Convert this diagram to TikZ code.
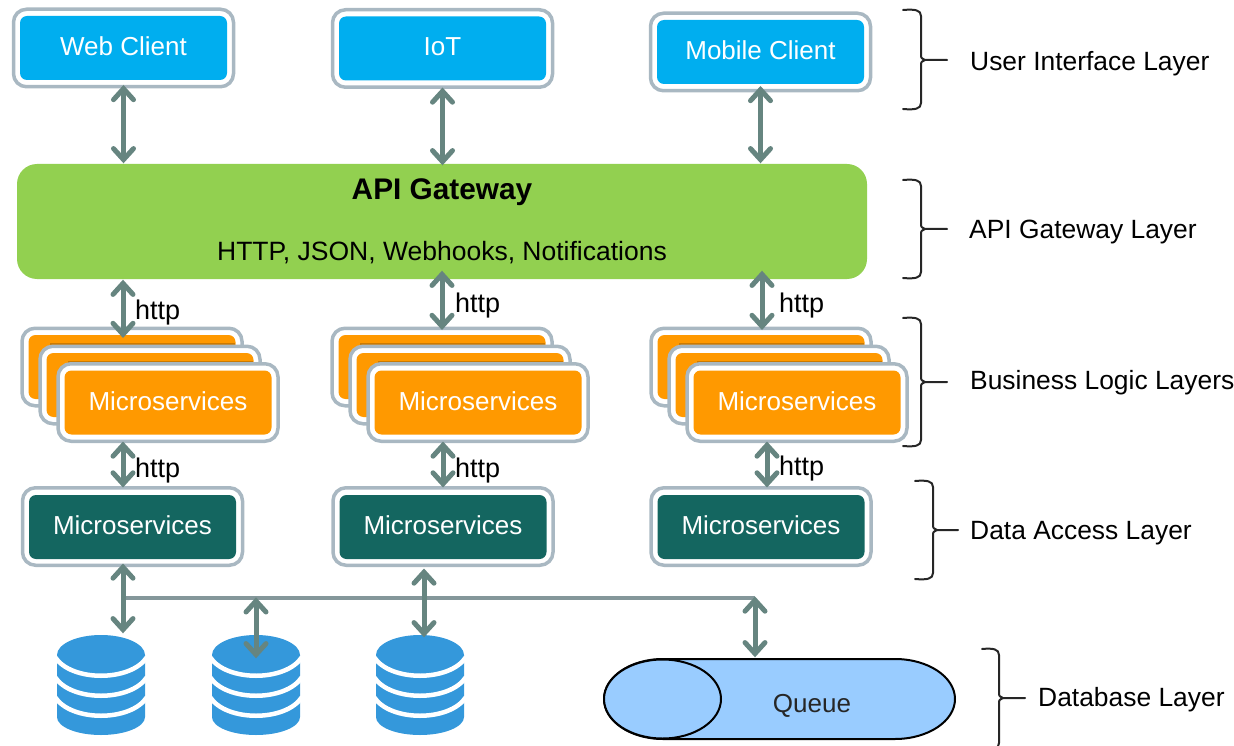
\documentclass[tikz,border=0pt]{standalone}
\usepackage{fontspec}
\setmainfont{Liberation Sans}
\usetikzlibrary{arrows.meta,positioning,calc}
\definecolor{frameC}{HTML}{A9B8C2}
\definecolor{blueC}{HTML}{00AEEF}
\definecolor{greenC}{HTML}{92D050}
\definecolor{orangeC}{HTML}{FF9900}
\definecolor{tealC}{HTML}{146660}
\definecolor{arrowC}{HTML}{668580}
\definecolor{busC}{HTML}{84979A}
\definecolor{dbC}{HTML}{3498DB}
\definecolor{queueC}{HTML}{99CCFF}
\tikzset{
  x=1pt,y=-1pt,
  outerbox/.style={draw=frameC,line width=3.5pt,fill=white,rounded corners=13pt,minimum width=220pt,minimum height=77.5pt,inner sep=0pt},
  innerbox/.style={rounded corners=7pt,minimum width=207pt,minimum height=64pt,inner sep=0pt,text=white,font=\fontsize{26}{30}\selectfont,text height=19pt,text depth=4pt},
  bluebox/.style={innerbox,fill=blueC},
  orangebox/.style={innerbox,fill=orangeC},
  tealbox/.style={innerbox,fill=tealC},
  link/.style={draw=arrowC,line width=5pt,shorten <=-1.5pt,shorten >=-1.5pt,{Straight Barb[length=11pt,width=20pt,line cap=round]}-{Straight Barb[length=11pt,width=20pt,line cap=round]}},
  bus/.style={draw=busC,line width=4.5pt},
  lbl/.style={font=\fontsize{26.4}{30}\selectfont,anchor=west,inner sep=0pt},
  httplbl/.style={font=\fontsize{27}{30}\selectfont,anchor=west,inner sep=0pt},
  brk/.style={draw=black!85,line width=2pt,line cap=round,line join=round},
  dbmark/.style={inner sep=0pt,minimum width=88pt,minimum height=100pt},
  edgeshade/.style={draw=orangeC!80!black,line width=2pt},
}
\newcommand{\stackbox}[3]{% name, x of front box centre, label
  \node[outerbox] (#1a) at (#2-36,367) {};
  \node[innerbox,fill=orangeC] at (#2-36,367) {};
  \draw[edgeshade] (#2-118,344.3) -- (#2+67,344.3);
  \node[outerbox] (#1b) at (#2-18,385) {};
  \node[innerbox,fill=orangeC] at (#2-18,385) {};
  \draw[edgeshade] (#2-100,361.8) -- (#2+85,361.8);
  \node[outerbox] (#1c) at (#2,402.5) {};
  \node[orangebox] (#1) at (#2,402.5) {#3};
}
\newcommand{\dbicon}[2]{% name, centre x
  \node[dbmark] (#1) at (#2,685) {};
  \fill[dbC] (#2-44,655) arc[x radius=44,y radius=20,start angle=180,end angle=360]
    -- (#2+44,717) arc[x radius=44,y radius=18,start angle=0,end angle=180] -- cycle;
  \foreach \yy in {658,678,698}
    \draw[white,line width=4.5pt] (#2-46,\yy-1) .. controls (#2-30,\yy+24) and (#2+30,\yy+24) .. (#2+46,\yy-1);
}
\newcommand{\layerbrk}[6]{% left x, spine x, top y, mid y, bottom y, tick end x
  \draw[brk] (#1,#3) .. controls (#2-6,#3-1) and (#2,#3) .. (#2,#3+6)
    -- (#2,#4-6) .. controls (#2,#4-2) .. (#2+4,#4) -- (#6,#4);
  \draw[brk] (#2+4,#4) .. controls (#2,#4+2) .. (#2,#4+6)
    -- (#2,#5-6) .. controls (#2,#5) and (#2-6,#5+1) .. (#1,#5);
}
\begin{document}
\begin{tikzpicture}
\useasboundingbox (0,0) rectangle (1234,746);
% top row
\node[outerbox] (webo) at (123.5,48) {};
\node[bluebox] (web) at (123.5,48) {Web Client};
\node[outerbox] (ioto) at (442.5,48.5) {};
\node[bluebox] (iot) at (442.5,48.5) {IoT};
\node[outerbox] (mobo) at (760.5,52) {};
\node[bluebox] (mob) at (760.5,52) {Mobile Client};
% gateway
\node[fill=greenC,rounded corners=20pt,minimum width=850pt,minimum height=115pt,inner sep=0pt] (api) at (442,221.5) {};
\node[font=\bfseries\fontsize{29.8}{32}\selectfont,inner sep=0pt] (apit) at (442,192) {API Gateway};
\node[font=\fontsize{26.5}{30}\selectfont,inner sep=0pt] (apis) at (442,253) {HTTP, JSON, Webhooks, Notifications};
% stacks
\stackbox{msa}{168}{Microservices}
\stackbox{msb}{478}{Microservices}
\stackbox{msc}{797}{Microservices}
% data
\node[outerbox] (dao) at (132.5,526.5) {};
\node[tealbox] (da) at (132.5,527) {Microservices};
\node[outerbox] (dbo) at (443,526.5) {};
\node[tealbox] (db) at (443,527) {Microservices};
\node[outerbox] (dco) at (761,526.5) {};
\node[tealbox] (dc) at (761,527) {Microservices};
% databases
\dbicon{dbone}{101}
\dbicon{dbtwo}{256}
\dbicon{dbthree}{420}
% queue
\node[inner sep=0pt,minimum width=351pt,minimum height=80pt] (qbody) at (779.5,699) {};
\draw[line width=2pt,fill=queueC] (663,659) -- (895,659) arc[x radius=60,y radius=40,start angle=-90,end angle=90] -- (663,739) arc[x radius=59,y radius=40,start angle=90,end angle=270] -- cycle;
\draw[line width=2pt,fill=queueC] (662.5,699) ellipse[x radius=58.5,y radius=39.5];
\node[font=\fontsize{26}{30}\selectfont,text=black!85,inner sep=0pt] (qtext) at (812,706) {Queue};
% connectors: clients to gateway
\draw[link] ([yshift=2pt]webo.south) -- ([yshift=2pt]web |- api.north);
\draw[link] (ioto.south) -- (iot |- api.north);
\draw[link] ([yshift=5pt]mobo.south) -- ([yshift=2pt]mob |- api.north);
% gateway to business layer
\draw[link] ([xshift=-319pt,yshift=-2pt]api.south) -- ([xshift=-9pt,yshift=-10pt]msaa.north);
\draw[link] ([yshift=7pt]api.south) -- ([yshift=-2pt]msba.north);
\draw[link] ([xshift=320pt,yshift=7pt]api.south) -- ([xshift=1pt,yshift=-2pt]msca.north);
% business layer to data layer
\draw[link] ([xshift=-45pt]msac.south) -- ([xshift=-9.5pt]dao.north);
\draw[link] ([xshift=-35pt]msbc.south) -- (dbo.north);
\draw[link] ([xshift=-30pt]mscc.south) -- ([xshift=6pt]dco.north);
% data layer to storage
\coordinate (busL) at (123,598);
\coordinate (busR) at (755,598);
\draw[bus] (busL) -- (busR);
\draw[link] ([xshift=-9.5pt,yshift=2pt]dao.south) -- ([xshift=22pt,yshift=3pt]dbone.north);
\draw[link] ([xshift=-19pt,yshift=-3pt]dbo.south) -- ([xshift=4pt,yshift=-1pt]dbthree.north);
\draw[link] ([yshift=36pt]dbtwo.north) -- ([yshift=-22pt]dbtwo.north);
\draw[link] (busR) -- ([xshift=-24.5pt,yshift=3pt]qbody.north);
% http labels
\node[httplbl] (ha) at (135,313) {http};
\node[httplbl] (hb) at (455,306) {http};
\node[httplbl] (hc) at (779,306) {http};
\node[httplbl] (hd) at (135,471) {http};
\node[httplbl] (he) at (455,471) {http};
\node[httplbl] (hf) at (779,469) {http};
% layer brackets and labels
\layerbrk{903}{921}{10}{60}{109}{947}
\layerbrk{903}{921}{180}{229}{278}{947}
\layerbrk{903}{921}{318}{382}{446}{947}
\layerbrk{915}{933}{481}{530}{579}{958}
\layerbrk{982}{999}{649}{698}{749}{1025}
\node[lbl] (lu) at (970,64) {User Interface Layer};
\node[lbl] (lg) at (969,232) {API Gateway Layer};
\node[lbl] (lb) at (970,383) {Business Logic Layers};
\node[lbl] (ld) at (970,533) {Data Access Layer};
\node[lbl] (lq) at (1038,700) {Database Layer};
\end{tikzpicture}
\end{document}
